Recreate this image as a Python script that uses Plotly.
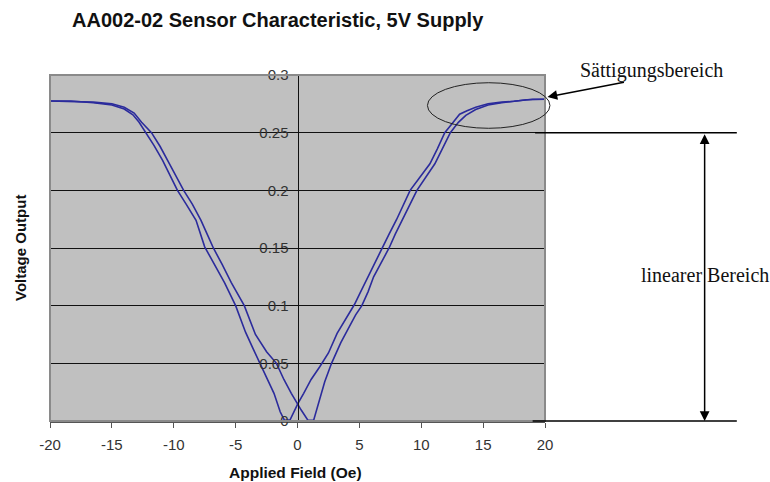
import plotly.graph_objects as go

# ---- data ----
field_sweep1 = [-20, -18.3, -16.5, -15.0, -14.0, -13.3, -12.8, -12.3, -11.6, -10.9, -10.2, -9.7,
                -9.0, -8.2, -7.5, -6.8, -5.9, -5.0, -4.2, -3.6, -3.0, -2.4, -1.9, -1.4, -1.05,
                -0.6, -0.3, 0.05, 0.5, 1.1, 1.8, 2.5, 3.2, 4.1, 4.6, 5.1, 5.7, 6.3, 6.8, 7.4,
                8.0, 8.6, 9.1, 9.8, 10.7, 11.3, 11.9, 12.5, 13.1, 13.7, 14.4, 15.4, 16.5, 17.5,
                18.2, 19.0, 20.0]
volt_sweep1 = [0.2775, 0.2775, 0.2760, 0.2740, 0.2705, 0.2655, 0.2590, 0.2510, 0.2390, 0.2260,
               0.2110, 0.2000, 0.1880, 0.1740, 0.1510, 0.1370, 0.1200, 0.1000, 0.0770, 0.0630,
               0.0490, 0.0350, 0.0240, 0.0080, 0.0005, 0.0010, 0.0080, 0.0155, 0.0240, 0.0360,
               0.0470, 0.0590, 0.0760, 0.0920, 0.1010, 0.1120, 0.1250, 0.1380, 0.1500, 0.1620,
               0.1745, 0.1880, 0.2000, 0.2100, 0.2230, 0.2360, 0.2500, 0.2580, 0.2660, 0.2690,
               0.2720, 0.2750, 0.2765, 0.2772, 0.2778, 0.2790, 0.2790]

field_sweep2 = [-20, -18.0, -16.5, -15.0, -14.0, -13.2, -12.6, -11.8, -11.1, -10.4, -9.8, -9.2,
                -8.5, -7.8, -7.3, -6.8, -6.1, -5.35, -4.3, -3.4, -2.5, -1.7, -1.1, -0.5, 0.3,
                0.85, 1.3, 1.7, 2.2, 2.75, 3.5, 4.2, 4.7, 5.2, 5.7, 6.15, 6.8, 7.4, 7.9, 8.45,
                9.1, 9.65, 10.3, 11.1, 11.7, 12.35, 13.0, 13.6, 14.4, 15.4, 16.5, 17.5, 18.5, 20.0]
volt_sweep2 = [0.2775, 0.2770, 0.2765, 0.2750, 0.2720, 0.2670, 0.2590, 0.2500, 0.2380, 0.2240,
               0.2120, 0.2000, 0.1880, 0.1740, 0.1620, 0.1500, 0.1360, 0.1200, 0.1000, 0.0750,
               0.0600, 0.0500, 0.0360, 0.0240, 0.0095, 0.0005, 0.0005, 0.0155, 0.0340, 0.0500,
               0.0680, 0.0820, 0.0920, 0.1000, 0.1120, 0.1250, 0.1380, 0.1500, 0.1620, 0.1745,
               0.1880, 0.2000, 0.2100, 0.2230, 0.2360, 0.2500, 0.2590, 0.2650, 0.2700, 0.2740,
               0.2760, 0.2770, 0.2785, 0.2790]

x_ticks = [-20, -15, -10, -5, 0, 5, 10, 15, 20]
x_tick_labels = ["-20", "-15", "-10", "-5", "0", "5", "10", "15", "20"]
y_ticks = [0, 0.05, 0.1, 0.15, 0.2, 0.25, 0.3]
y_tick_labels = ["0", "0.05", "0.1", "0.15", "0.2", "0.25", "0.3"]

X_RANGE = [-20, 20]
Y_RANGE = [0, 0.3]

# annotation anchors (data units)
LIN_TOP, LIN_BOT = 0.25, 0.0
LIN_ARROW_X = 32.9
LIN_LINE_X0, LIN_LINE_X1 = 19.2, 35.5
SAT_TIP = (20.2, 0.281)
SAT_TEXT = (28.6, 0.3035)
ELLIPSE = (10.5, 0.2538, 20.4, 0.2933)


def px(x):
    return (x - X_RANGE[0]) / (X_RANGE[1] - X_RANGE[0])


def py(y):
    return (y - Y_RANGE[0]) / (Y_RANGE[1] - Y_RANGE[0])


LINE_COLOR = "#2b2b9c"
fig = go.Figure()
for xs, ys in [(field_sweep1, volt_sweep1), (field_sweep2, volt_sweep2)]:
    fig.add_trace(go.Scatter(x=xs, y=ys, mode="lines",
                             line=dict(color=LINE_COLOR, width=1.6),
                             showlegend=False, hoverinfo="skip"))

fig.update_layout(
    width=770, height=482,
    margin=dict(l=50, r=225, t=75, b=61, autoexpand=False),
    paper_bgcolor="white", plot_bgcolor="#c0c0c0",
    font=dict(family="Liberation Sans, Arial, sans-serif", color="#222"),
    title=dict(text="<b>AA002-02 Sensor Characteristic, 5V Supply</b>",
               xref="container", x=72 / 770, xanchor="left",
               yref="container", y=1 - 20 / 482, yanchor="middle",
               font=dict(size=20, color="#111")),
    xaxis=dict(range=X_RANGE, tickvals=x_ticks, ticktext=x_tick_labels,
               showgrid=False, zeroline=False, automargin=False,
               showline=True, linecolor="#555", linewidth=2,
               ticks="outside", ticklen=5, tickcolor="#555", ticklabelstandoff=4,
               tickfont=dict(size=15, color="#333")),
    yaxis=dict(range=Y_RANGE, tickvals=y_ticks, ticktext=y_tick_labels, automargin=False,
               anchor="free", position=0.5, showgrid=True, gridcolor="#111", gridwidth=1,
               zeroline=False, showline=True, linecolor="#111", linewidth=1,
               ticks="outside", ticklen=6, tickcolor="#111",
               tickfont=dict(size=15, color="#333")),
)

shapes = [
    # plot-area border
    dict(type="rect", xref="paper", yref="paper", x0=0, x1=1, y0=0, y1=1,
         line=dict(color="#8a8a8a", width=2)),
    # linear-range guide lines
    dict(type="line", xref="paper", yref="paper", x0=px(LIN_LINE_X0), x1=px(LIN_LINE_X1),
         y0=py(LIN_TOP), y1=py(LIN_TOP), line=dict(color="black", width=1.5)),
    dict(type="line", xref="paper", yref="paper", x0=px(19.0), x1=px(LIN_LINE_X1),
         y0=py(LIN_BOT), y1=py(LIN_BOT), line=dict(color="black", width=1.5)),
    # saturation ellipse
    dict(type="circle", xref="paper", yref="paper",
         x0=px(ELLIPSE[0]), x1=px(ELLIPSE[2]), y0=py(ELLIPSE[1]), y1=py(ELLIPSE[3]),
         line=dict(color="#222", width=1)),
]
fig.update_layout(shapes=shapes)

annotations = [
    dict(text="<b>Applied Field (Oe)</b>", xref="paper", yref="paper", x=0.495, y=-51 / 346,
         showarrow=False, font=dict(size=15.5, color="#111"),
         xanchor="center", yanchor="middle"),
    dict(text="<b>Voltage Output</b>", xref="paper", yref="paper", x=-30 / 495, y=0.5,
         textangle=-90, showarrow=False, font=dict(size=15, color="#111"),
         xanchor="center", yanchor="middle"),
    # double arrow for linear range
    dict(text="", xref="x domain", yref="y domain", x=px(LIN_ARROW_X), y=py(LIN_BOT),
         axref="x domain", ayref="y domain", ax=px(LIN_ARROW_X), ay=py(LIN_TOP),
         showarrow=True, arrowhead=2, startarrowhead=2, arrowside="end+start",
         arrowsize=1.3, startarrowsize=1.3, arrowwidth=1.5, arrowcolor="black"),
    dict(text="linearer Bereich", xref="paper", yref="paper", x=px(LIN_ARROW_X),
         y=py((LIN_TOP + LIN_BOT) / 2 + 0.0015), showarrow=False,
         font=dict(family="Liberation Serif, Times New Roman, serif", size=20, color="#111"),
         xanchor="center", yanchor="middle"),
    # saturation arrow
    dict(text="", xref="paper", yref="paper", x=px(SAT_TIP[0]), y=py(SAT_TIP[1]),
         ax=78, ay=-15, showarrow=True, arrowhead=2, arrowsize=1.3, arrowwidth=1.5,
         arrowcolor="black", standoff=0),
    dict(text="Sättigungsbereich", xref="paper", yref="paper", x=px(SAT_TEXT[0]),
         y=py(SAT_TEXT[1]), showarrow=False,
         font=dict(family="Liberation Serif, Times New Roman, serif", size=20, color="#111"),
         xanchor="center", yanchor="middle"),
]
fig.update_layout(annotations=annotations)

fig.write_html("out.html")
